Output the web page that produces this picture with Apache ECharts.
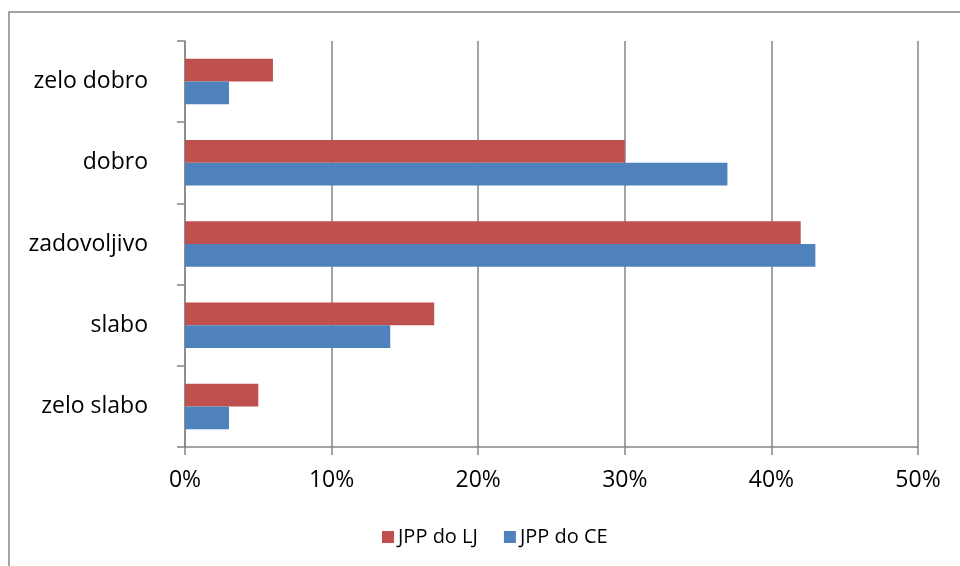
<!DOCTYPE html>
<html>
<head>
<meta charset="utf-8">
<script src="https://cdn.jsdelivr.net/npm/echarts@6/dist/echarts.min.js"></script>
<style>
  html, body { margin: 0; padding: 0; background: #fff; }
  #chart { width: 960px; height: 566px; }
</style>
</head>
<body>
<div id="chart"></div>
<script>
// Ocene, od najnižje (spodaj) do najvišje (zgoraj)
const categories = ['zelo slabo', 'slabo', 'zadovoljivo', 'dobro', 'zelo dobro'];
const seriesNames = ['JPP do LJ', 'JPP do CE'];
const valuesLJ = [5, 17, 42, 30, 6];
const valuesCE = [3, 14, 43, 37, 3];
const xTicks = { min: 0, max: 50, step: 10 };

const font = '"Open Sans", "Noto Sans", sans-serif';
const gray = '#868686';

const chart = echarts.init(document.getElementById('chart'), null, { renderer: 'canvas' });
chart.setOption({
  animation: false,
  backgroundColor: '#fff',
  graphic: [{
    type: 'rect',
    shape: { x: 9, y: 12, width: 1000, height: 1000 },
    style: { fill: 'none', stroke: gray, lineWidth: 1.5 },
    silent: true
  }],
  grid: { left: 185, top: 41, right: 42, bottom: 119, containLabel: false },
  legend: {
    data: seriesNames,
    bottom: 14,
    left: 377,
    padding: 5,
    itemWidth: 12,
    itemHeight: 12,
    itemGap: 26,
    icon: 'rect',
    textStyle: { fontFamily: font, fontSize: 20, color: '#000', padding: [0, 0, 0, -1] }
  },
  xAxis: {
    type: 'value',
    min: xTicks.min,
    max: xTicks.max,
    interval: xTicks.step,
    axisLine: { show: true, lineStyle: { color: gray, width: 1.5 } },
    axisTick: { show: true, length: 8, lineStyle: { color: gray, width: 1.5 } },
    axisLabel: {
      formatter: v => v + '%',
      fontFamily: font, fontSize: 23, color: '#000', margin: 22
    },
    splitLine: { show: true, lineStyle: { color: gray, width: 1.5 } }
  },
  yAxis: {
    type: 'category',
    data: categories,
    axisLine: { show: true, lineStyle: { color: gray, width: 1.5 } },
    axisTick: { show: true, length: 8, lineStyle: { color: gray, width: 1.5 } },
    axisLabel: { fontFamily: font, fontSize: 23, color: '#000', margin: 37 }
  },
  series: [
    {
      name: seriesNames[0],
      type: 'bar',
      data: valuesLJ,
      itemStyle: { color: '#C0504D' },
      barGap: '0%',
      barCategoryGap: '44%'
    },
    {
      name: seriesNames[1],
      type: 'bar',
      data: valuesCE,
      itemStyle: { color: '#4F81BD' },
      barGap: '0%',
      barCategoryGap: '44%'
    }
  ]
});
</script>
</body>
</html>
